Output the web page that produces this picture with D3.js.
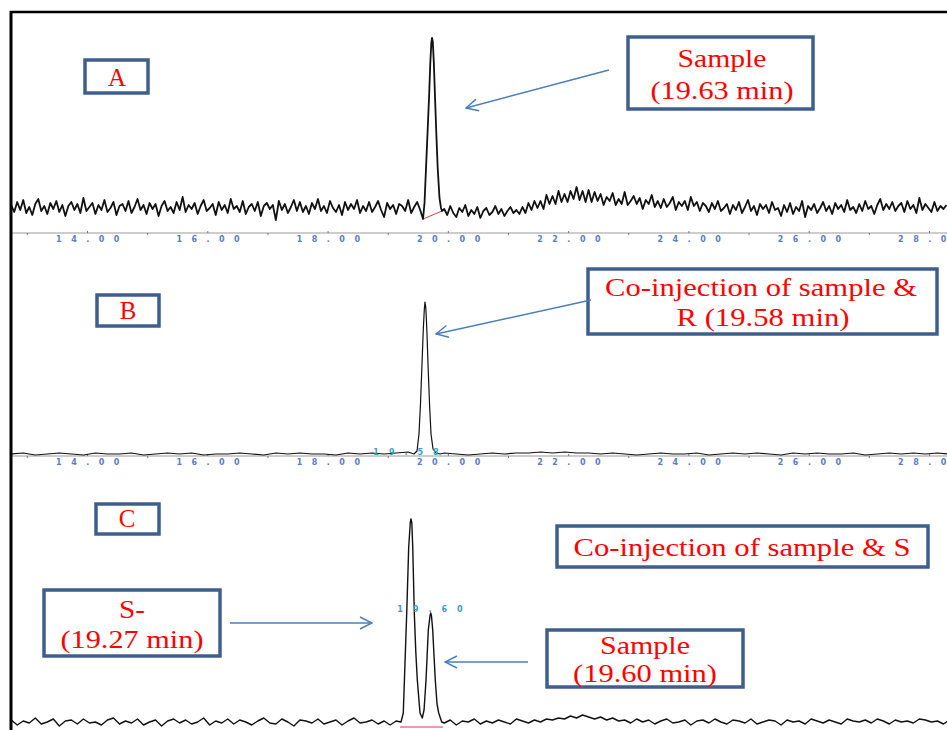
<!DOCTYPE html>
<html><head><meta charset="utf-8">
<script src="https://cdn.jsdelivr.net/npm/d3@7"></script>
<style>body{margin:0;background:#fff}svg{display:block}</style>
</head><body><svg id="c" width="947" height="730"></svg>
<script>
// ---------- data (minutes / detector response) ----------
const tickLabels = [14, 16, 18, 20, 22, 24, 26, 28];
const minorTicks = [13, 15, 17, 19, 21, 23, 25, 27];
const traceStart = 12.74;

// Panel A: sample
const traceAStep = 0.05;
const traceA = [
 3,-4,6,-2,8,-5,1,-7,4,9,-3,2,-6,5,-1,7,-4,3,-8,2,
 6,-2,4,-5,10,-3,1,5,-6,3,-2,8,-4,0,6,-7,2,4,-3,7,
 -5,1,9,-2,3,-6,5,-1,4,-8,2,7,-3,1,-5,6,-2,11,-4,3,
 -1,5,-6,2,8,-3,0,4,-7,6,-2,3,-5,9,-1,2,-4,7,-6,1,
 4,-3,6,-8,2,5,-1,3,-12,7,-2,4,-5,1,8,-3,6,-4,2,-6,
 5,-1,9,-3,2,-5,7,0,-4,3,-7,6,-2,4,-1,8,-5,2,-3,6,
 -4,1,7,-2,-9,5,-1,3,-6,4,2,-3,8,-5,1,6,-2,
 -3,2,-4,5,-2,3,-6,
 -1,-7,2,-5,-9,0,-4,3,-8,-2,-6,1,-10,-3,0,-7,-4,2,-6,-1,-8,-3,1,-5,-2,-6,
 1,-5,5,-2,7,0,7,-1,13,4,12,4,17,6,14,6,17,9,21,8,17,6,18,
 6,16,7,14,3,11,7,15,3,9,4,16,3,7,12,4,10,-1,8,4,13,1,7,0,9,1,5,11,-2,6,2,7,-2,11,2,6,-3,5,
 2,-4,5,-1,7,-3,0,4,-6,3,-2,6,-5,1,8,-3,2,-7,4,-1,
 3,-5,6,-2,0,-8,3,-4,5,-6,1,-3,7,-9,2,-2,4,-5,0,6,
 -3,2,-6,5,-1,3,-4,8,-2,1,-5,4,-3,7,-1,2,-6,3,9,-2,
 4,-1,6,-3,2,5,-4,7,-1,3,-5,10,-2,4,0,-4,6,-3,2,-1,
 3
];
const peakATimes  = [19.587,19.612,19.637,19.662,19.687,19.708,19.725,19.737,19.750,19.767,19.787,19.808,19.831,19.861,19.886,19.903];
const peakAValues = [-11,5,40,75,110,145,165,170,166,145,110,75,40,10,0,-3];
const baseATimes  = [19.587, 19.903];
const baseAValues = [-11, -3];

// Panel B: co-injection of sample & R
const traceBStep = 0.2;
const traceB = [
 0,1,-1,0,1,0,-1,1,0,0,1,-1,0,1,0,1,-1,0,0,1,0,-1,1,0,1,0,0,-1,1,0,1,0,
 1,2,0,0,
 1,0,-1,0,1,0,1,1,2,1,2,1,1,0,1,0,-1,0,1,0,0,1,-1,0,1,0,1,0,-1,1,0,1,0,0,1,-1,0,1,0,1,0,1,0
];
const peakBTimes  = [19.437,19.487,19.520,19.545,19.570,19.592,19.609,19.620,19.634,19.650,19.670,19.695,19.720,19.753,19.803,19.870];
const peakBValues = [0,3,20,50,90,125,145,152,146,125,90,50,20,5,1,0];

// Panel C: co-injection of sample & S
const traceCStep = 0.1;
const traceC = [
 2,-3,1,-1,4,-2,0,3,-4,1,2,-2,3,-1,0,-3,2,4,-2,1,
 -1,3,-3,0,2,-4,1,3,-1,2,-2,0,4,-3,1,-1,3,-2,2,0,
 -3,1,4,-1,-2,3,0,-4,2,1,-1,3,-2,0,2,-3,1,4,-1,0,
 2,-2,1,-3,1,
 0,0,0,0,0,0,0,
 -1,2,-3,1,0,3,-2,1,-1,2,0,-2,3,1,-1,2,0,3,
 2,4,3,6,4,7,5,3,5,2,4,1,
 2,-1,3,0,2,-2,1,3,-1,0,2,-3,1,2,-1,3,0,-2,2,1,
 -1,3,-2,0,2,1,-3,2,0,1,-2,3,1,-1,2,0,-2,3,1,0,
 2,-1,3,1,-2,2,0,1,-1,3,2,0,1,-2,2
];
const peakCTimes  = [19.221,19.259,19.288,19.316,19.349,19.376,19.387,19.401,19.416,19.442,19.467,19.492,19.537,19.575,19.604,19.637,19.675,19.703,19.715,19.728,19.748,19.791,19.820,19.848,19.898];
const peakCValues = [0,9,60,109,175,200,203,199,175,109,70,42,9,4,12,42,92,106,109,106,92,42,18,9,0];
const baseCTimes  = [19.205, 19.920];
const baseCValues = [-5, -5];

const peakLabelB = "19.58";
const peakLabelC = "19.60";

// ---------- drawing ----------
const svg = d3.select("#c");
const x = d3.scaleLinear().domain([14, 28]).range([87, 929]);
const yA = d3.scaleLinear().domain([0, 170]).range([208, 38]);
const yB = d3.scaleLinear().domain([0, 152]).range([454, 302]);
const yC = d3.scaleLinear().domain([0, 203]).range([722, 519]);

svg.append("defs").append("clipPath").attr("id","plotclip")
  .append("rect").attr("x",12).attr("y",13).attr("width",935).attr("height",717);
svg.append("defs").append("marker").attr("id","arr")
  .attr("viewBox","0 0 14 14").attr("refX",13).attr("refY",7)
  .attr("markerWidth",14).attr("markerHeight",14).attr("markerUnits","userSpaceOnUse")
  .attr("orient","auto-start-reverse")
  .append("path").attr("d","M1,1 L13,7 L1,13").attr("fill","none")
  .attr("stroke","#4a7ebb").attr("stroke-width",1.4);

function buildTrace(noise, step, pkT, pkV) {
  const lo = pkT[0], hi = pkT[pkT.length - 1];
  const pts = noise.map((v, i) => [traceStart + i * step, v])
    .filter(p => p[0] < lo || p[0] > hi);
  pkT.forEach((t, i) => pts.push([t, pkV[i]]));
  return pts.sort((a, b) => a[0] - b[0]);
}

const plot = svg.append("g").attr("clip-path","url(#plotclip)");

function drawAxis(yPos) {
  plot.append("line").attr("x1",12).attr("x2",947).attr("y1",yPos).attr("y2",yPos)
    .attr("stroke","#9a9a9a").attr("stroke-width",1);
  const gMinor = plot.append("g").attr("transform",`translate(0,${yPos})`)
    .call(d3.axisBottom(x).tickValues(minorTicks).tickSize(2).tickFormat(""));
  gMinor.select(".domain").remove();
  gMinor.selectAll("line").attr("stroke","#777");
  const g = plot.append("g").attr("transform",`translate(0,${yPos})`)
    .call(d3.axisBottom(x).tickValues(tickLabels).tickSize(-2).tickPadding(6).tickFormat(d3.format(".2f")));
  g.select(".domain").remove();
  g.selectAll("line").attr("stroke","#777");
  g.selectAll("text").attr("font-family","DejaVu Sans").attr("font-size",8).attr("font-weight","bold")
    .attr("letter-spacing","9.5px").attr("dx",5).attr("fill","#5d7cc2").attr("y",3);
}
drawAxis(233);
drawAxis(456);

const lineOf = y => d3.line().x(d => x(d[0])).y(d => y(d[1]));

// baselines (red) under peaks
plot.append("path").datum(baseATimes.map((t,i)=>[t,baseAValues[i]]))
  .attr("d", lineOf(yA)).attr("stroke","#d04040").attr("stroke-width",1).attr("fill","none");
plot.append("path").datum(baseCTimes.map((t,i)=>[t,baseCValues[i]]))
  .attr("d", lineOf(yC)).attr("stroke","#d04040").attr("stroke-width",1).attr("fill","none");

// traces
[[traceA, traceAStep, peakATimes, peakAValues, yA, 1.8],
 [traceB, traceBStep, peakBTimes, peakBValues, yB, 1.2],
 [traceC, traceCStep, peakCTimes, peakCValues, yC, 1.4]].forEach(([n, s, pt, pv, y, w]) => {
  plot.append("path").datum(buildTrace(n, s, pt, pv))
    .attr("d", lineOf(y)).attr("fill","none").attr("stroke","#111")
    .attr("stroke-width", w).attr("stroke-linejoin","round");
});

// peak labels (teal)
function peakLabel(txt, cx, cy) {
  plot.append("text").attr("x",cx + 5).attr("y",cy).attr("text-anchor","middle")
    .attr("font-family","DejaVu Sans").attr("font-size",8).attr("font-weight","bold")
    .attr("letter-spacing","10px").attr("fill","#3a9fbf").text(txt);
}
peakLabel(peakLabelB, 406, 455);
peakLabel(peakLabelC, 430, 612);

// outer frame
svg.append("line").attr("x1",11).attr("x2",11).attr("y1",11).attr("y2",730).attr("stroke","#000").attr("stroke-width",3);
svg.append("line").attr("x1",10).attr("x2",947).attr("y1",12).attr("y2",12).attr("stroke","#000").attr("stroke-width",2.5);

// annotation boxes
const boxColor = "#3e5f8e";
function box(x0, y0, x1, y1, lines) {
  const g = svg.append("g");
  g.append("rect").attr("x",x0).attr("y",y0).attr("width",x1-x0).attr("height",y1-y0)
    .attr("fill","#fff").attr("stroke",boxColor).attr("stroke-width",3.5);
  lines.forEach(l => {
    const t = g.append("text").attr("x",l.cx).attr("y",l.y).attr("text-anchor","middle")
      .attr("font-family","Liberation Serif, Times New Roman, serif").attr("font-size",25)
      .attr("fill","#ff0000").text(l.t);
    if (l.w) t.attr("textLength", l.w).attr("lengthAdjust","spacingAndGlyphs");
  });
}
box(85, 60, 148, 93, [{t:"A", cx:117, y:86}]);
box(628, 37, 813, 109, [{t:"Sample", cx:722, y:67, w:89}, {t:"(19.63 min)", cx:722, y:99, w:143}]);
box(97, 295, 159, 326, [{t:"B", cx:128, y:319}]);
box(588, 269, 937, 334, [{t:"Co-injection of sample &", cx:761, y:296, w:312}, {t:"R (19.58 min)", cx:763, y:326, w:173}]);
box(96, 504, 159, 534, [{t:"C", cx:127, y:527}]);
box(557, 526, 928, 567, [{t:"Co-injection of sample & S", cx:742, y:556, w:337}]);
box(44, 590, 220, 656, [{t:"S-", cx:132, y:618, w:26}, {t:"(19.27 min)", cx:132, y:648, w:143}]);
box(547, 630, 743, 687, [{t:"Sample", cx:645, y:654, w:90}, {t:"(19.60 min)", cx:645, y:682, w:144}]);

// arrows
const arrows = [[609,70,466,108],[591,300,436,334],[230,623,372,623],[528,662,445,662]];
arrows.forEach(a => svg.append("line").attr("x1",a[0]).attr("y1",a[1]).attr("x2",a[2]).attr("y2",a[3])
  .attr("stroke","#4a7ebb").attr("stroke-width",1.4).attr("marker-end","url(#arr)"));
</script></body></html>
